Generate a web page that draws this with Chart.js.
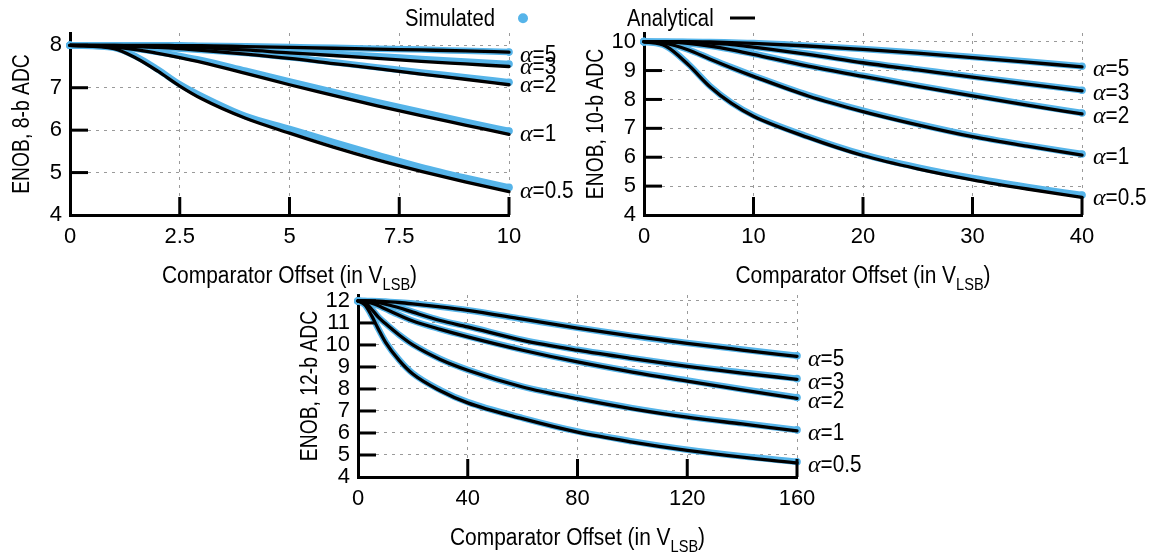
<!DOCTYPE html>
<html>
<head>
<meta charset="utf-8">
<script src="https://cdn.jsdelivr.net/npm/chart.js@4.4.1/dist/chart.umd.min.js"></script>
<style>
  html, body { margin: 0; padding: 0; background: #fff; }
  body { width: 1153px; height: 557px; position: relative; overflow: hidden; }
  canvas { position: absolute; }
  #c1 { left: 0; top: 0; }
  #c2 { left: 580px; top: 0; }
  #c3 { left: 290px; top: 270px; }
</style>
</head>
<body>
<canvas id="c3" width="580" height="287"></canvas>
<canvas id="c1" width="580" height="290"></canvas>
<canvas id="c2" width="573" height="290"></canvas>
<script>
// ---------------- DATA ----------------
const ALPHAS = ['0.5', '1', '2', '3', '5'];

// 8-b ADC
const X1 = [0, 1, 1.5, 2, 2.5, 3, 4, 5, 6, 7, 8, 9, 10];
const X1_TICKS = [0, 2.5, 5, 7.5, 10];
const Y1_TICKS = [4, 5, 6, 7, 8];
const ANA1_A05 = [8, 7.92, 7.70, 7.39, 7.04, 6.74, 6.28, 5.93, 5.60, 5.30, 5.03, 4.78, 4.55];
const ANA1_A1  = [8, 7.96, 7.90, 7.81, 7.71, 7.60, 7.34, 7.07, 6.82, 6.57, 6.34, 6.12, 5.90];
const ANA1_A2  = [8, 7.99, 7.97, 7.95, 7.92, 7.88, 7.79, 7.69, 7.57, 7.45, 7.32, 7.20, 7.07];
const ANA1_A3  = [8, 8.00, 7.99, 7.98, 7.96, 7.94, 7.89, 7.82, 7.76, 7.69, 7.62, 7.56, 7.50];
const ANA1_A5  = [8, 8.00, 8.00, 8.00, 7.99, 7.99, 7.97, 7.95, 7.93, 7.91, 7.89, 7.87, 7.84];
const SIM1_A05 = [8, 7.94, 7.74, 7.43, 7.08, 6.80, 6.33, 6.03, 5.72, 5.42, 5.13, 4.88, 4.65];
const SIM1_A1  = [8, 7.97, 7.92, 7.84, 7.75, 7.65, 7.40, 7.15, 6.90, 6.66, 6.43, 6.20, 5.98];
const SIM1_A2  = [8, 7.99, 7.97, 7.95, 7.92, 7.89, 7.82, 7.72, 7.60, 7.48, 7.36, 7.25, 7.13];
const SIM1_A3  = [8, 8.00, 7.99, 7.98, 7.97, 7.95, 7.91, 7.86, 7.80, 7.74, 7.68, 7.62, 7.56];
const SIM1_A5  = [8, 8.00, 8.00, 8.00, 8.00, 7.99, 7.98, 7.96, 7.94, 7.92, 7.90, 7.87, 7.84];
const Y1_MAX = 8.29;

// 10-b ADC
const X2 = [0, 2, 4, 6, 8, 10, 15, 20, 25, 30, 35, 40];
const X2_TICKS = [0, 10, 20, 30, 40];
const Y2_TICKS = [4, 5, 6, 7, 8, 9, 10];
const ANA2_A05 = [10, 9.84, 9.22, 8.45, 7.86, 7.42, 6.68, 6.06, 5.60, 5.22, 4.90, 4.61];
const ANA2_A1  = [10, 9.94, 9.72, 9.40, 9.09, 8.80, 8.12, 7.58, 7.12, 6.71, 6.38, 6.07];
const ANA2_A2  = [10, 9.99, 9.94, 9.85, 9.72, 9.56, 9.15, 8.80, 8.45, 8.12, 7.80, 7.50];
const ANA2_A3  = [10, 10.0, 9.98, 9.95, 9.90, 9.81, 9.56, 9.27, 9.02, 8.77, 8.53, 8.30];
const ANA2_A5  = [10, 10.0, 10.0, 9.99, 9.97, 9.94, 9.85, 9.73, 9.60, 9.45, 9.29, 9.13];
const SIM2_A05 = [10, 9.85, 9.24, 8.47, 7.88, 7.45, 6.71, 6.10, 5.65, 5.28, 4.97, 4.69];
const SIM2_A1  = [10, 9.94, 9.73, 9.42, 9.11, 8.82, 8.15, 7.61, 7.15, 6.74, 6.41, 6.11];
const SIM2_A2  = [10, 9.99, 9.94, 9.86, 9.73, 9.58, 9.17, 8.82, 8.48, 8.15, 7.83, 7.53];
const SIM2_A3  = [10, 10.0, 9.98, 9.95, 9.90, 9.82, 9.58, 9.29, 9.04, 8.79, 8.55, 8.32];
const SIM2_A5  = [10, 10.0, 10.0, 9.99, 9.97, 9.95, 9.86, 9.75, 9.62, 9.47, 9.31, 9.15];
const Y2_MAX = 10.3;

// 12-b ADC
const X3 = [0, 2.5, 5, 7.5, 10, 15, 20, 30, 40, 60, 80, 100, 120, 140, 160];
const X3_TICKS = [0, 40, 80, 120, 160];
const Y3_TICKS = [4, 5, 6, 7, 8, 9, 10, 11, 12];
const ANA3_A05 = [12, 11.82, 11.32, 10.70, 10.13, 9.30, 8.68, 7.92, 7.37, 6.65, 6.04, 5.59, 5.21, 4.90, 4.64];
const ANA3_A1  = [12, 11.93, 11.62, 11.25, 10.97, 10.45, 10.00, 9.34, 8.85, 8.09, 7.56, 7.10, 6.72, 6.41, 6.10];
const ANA3_A2  = [12, 11.98, 11.90, 11.78, 11.63, 11.35, 11.09, 10.71, 10.37, 9.76, 9.23, 8.77, 8.36, 7.96, 7.57];
const ANA3_A3  = [12, 12.00, 11.97, 11.92, 11.85, 11.69, 11.49, 11.11, 10.82, 10.21, 9.76, 9.38, 9.03, 8.72, 8.44];
const ANA3_A5  = [12, 12.00, 12.00, 11.99, 11.97, 11.93, 11.87, 11.73, 11.57, 11.17, 10.77, 10.40, 10.07, 9.77, 9.48];
const SIM3_A05 = [12, 11.82, 11.33, 10.71, 10.15, 9.32, 8.70, 7.95, 7.40, 6.68, 6.07, 5.62, 5.24, 4.94, 4.69];
const SIM3_A1  = [12, 11.93, 11.63, 11.26, 10.98, 10.46, 10.02, 9.36, 8.87, 8.11, 7.59, 7.13, 6.75, 6.44, 6.14];
const SIM3_A2  = [12, 11.98, 11.90, 11.78, 11.64, 11.36, 11.10, 10.72, 10.39, 9.78, 9.25, 8.79, 8.39, 7.99, 7.61];
const SIM3_A3  = [12, 12.00, 11.97, 11.92, 11.85, 11.70, 11.50, 11.12, 10.84, 10.23, 9.78, 9.40, 9.05, 8.75, 8.47];
const SIM3_A5  = [12, 12.00, 12.00, 11.99, 11.97, 11.93, 11.88, 11.74, 11.58, 11.18, 10.78, 10.41, 10.09, 9.79, 9.51];
const Y3_MAX = 12.27;

// ---------------- STYLE ----------------
const FONT = "'Liberation Sans', Arial, Helvetica, sans-serif";
const SERIF = "'Liberation Serif', 'DejaVu Serif', serif";
const BLUE = '#56B4E9';
const GRID = '#9a9a9a';

function drawScaled(ctx, s, x, y, font, sx) {
  ctx.save();
  ctx.font = font;
  ctx.translate(x, y);
  ctx.scale(sx, 1);
  ctx.fillText(s, 0, 0);
  const w = ctx.measureText(s).width * sx;
  ctx.restore();
  return w;
}
function measureScaled(ctx, s, font, sx) {
  ctx.save(); ctx.font = font;
  const w = ctx.measureText(s).width * sx;
  ctx.restore();
  return w;
}

const TICKSETS = {};

function drawInwardTicks(chart) {
  const t = TICKSETS[chart.canvas.id];
  if (!t) return;
  const ctx = chart.ctx, a = chart.chartArea, xs = chart.scales.x, ys = chart.scales.y;
  ctx.save();
  ctx.setLineDash([]);
  ctx.fillStyle = '#000';
  for (let i = 1; i < t.y.length; i++) {
    const p = ys.getPixelForValue(t.y[i]);
    ctx.fillRect(a.left, p - 1.5, 18, 3);
  }
  for (let i = 1; i < t.x.length; i++) {
    const p = xs.getPixelForValue(t.x[i]);
    ctx.fillRect(p - 1.5, a.bottom - 18, 3, 18);
  }
  ctx.restore();
}

const deco = {
  id: 'deco',
  afterDraw(chart, args, o) {
    drawInwardTicks(chart);
    const { ctx, chartArea: a, scales: { y } } = chart;
    ctx.save();
    ctx.fillStyle = '#000';
    ctx.textBaseline = 'alphabetic';
    ctx.textAlign = 'left';

    // x title with subscript
    const mainF = '23px ' + FONT, subF = '16px ' + FONT, SX = 0.91;
    const t1 = 'Comparator Offset (in V', t2 = 'LSB', t3 = ')';
    const w1 = measureScaled(ctx, t1, mainF, SX), w2 = measureScaled(ctx, t2, subF, SX), w3 = measureScaled(ctx, t3, mainF, SX);
    let sx0 = (a.left + a.right) / 2 - (w1 + w2 + w3) / 2;
    const base = a.bottom + 68;
    sx0 += drawScaled(ctx, t1, sx0, base, mainF, SX);
    sx0 += drawScaled(ctx, t2, sx0, base + 7, subF, SX);
    drawScaled(ctx, t3, sx0, base, mainF, SX);

    // y title (rotated)
    ctx.save();
    ctx.translate(a.left - 49, (a.top + a.bottom) / 2);
    ctx.rotate(-Math.PI / 2);
    const yf = '23px ' + FONT, YS = 0.84;
    const wy = measureScaled(ctx, o.yTitle, yf, YS);
    drawScaled(ctx, o.yTitle, -wy / 2, 8.2, yf, YS);
    ctx.restore();

    // curve labels
    o.labels.forEach(l => {
      const cy = y.getPixelForValue(l.value) + 2;
      let lx = a.right + 11;
      ctx.font = 'italic 24px ' + SERIF;
      ctx.fillText('\u03B1', lx, cy + 8.2);
      lx += ctx.measureText('\u03B1').width;
      drawScaled(ctx, '=' + l.text, lx, cy + 8.2, '23px ' + FONT, 0.9);
    });

    // legend pieces
    if (o.legendSim) {
      drawScaled(ctx, 'Simulated', o.legendSim.x, 26.3, '23px ' + FONT, 0.88);
      ctx.fillStyle = BLUE;
      ctx.beginPath(); ctx.arc(o.legendSim.dot, 18.3, 5, 0, Math.PI * 2); ctx.fill();
    }
    if (o.legendAna) {
      ctx.fillStyle = '#000';
      drawScaled(ctx, 'Analytical', o.legendAna.x, 26.3, '23px ' + FONT, 0.88);
      ctx.fillRect(o.legendAna.l1, 16.5, o.legendAna.l2 - o.legendAna.l1, 3);
    }
    ctx.restore();
  }
};
Chart.register(deco);

function buildDatasets(X, sims, anas) {
  const ds = [];
  sims.forEach((s, i) => {
    ds.push({
      label: 'Simulated \u03B1=' + ALPHAS[i],
      data: X.map((x, j) => ({ x, y: s[j] })),
      borderColor: BLUE, backgroundColor: BLUE, pointBorderColor: BLUE, pointBackgroundColor: BLUE,
      borderWidth: 6.5,
      pointRadius: c => (c.dataIndex === 0 || c.dataIndex === X.length - 1) ? 3.8 : 0,
      pointBorderWidth: 0,
      cubicInterpolationMode: 'monotone',
      borderCapStyle: 'round', borderJoinStyle: 'round',
      clip: 10,
      order: 1
    });
  });
  anas.forEach((s, i) => {
    ds.push({
      label: 'Analytical \u03B1=' + ALPHAS[i],
      data: X.map((x, j) => ({ x, y: s[j] })),
      borderColor: '#000', backgroundColor: '#000',
      borderWidth: 3.3,
      pointRadius: 0,
      cubicInterpolationMode: 'monotone',
      borderCapStyle: 'round', borderJoinStyle: 'round',
      clip: 10,
      order: 0
    });
  });
  return ds;
}

function makeChart(id, p) {
  TICKSETS[id] = { x: p.xTicks.slice(), y: p.yTicks.slice() };
  return new Chart(document.getElementById(id), {
    type: 'line',
    data: { datasets: buildDatasets(p.X, p.sims, p.anas) },
    options: {
      responsive: false,
      animation: false,
      devicePixelRatio: 1,
      layout: { padding: { left: 0, right: p.padRight, top: p.padTop, bottom: 0 } },
      plugins: {
        legend: { display: false },
        tooltip: { enabled: false },
        deco: {
          yTitle: p.yTitle,
          labels: p.sims.map((s, i) => ({ text: ALPHAS[i], value: s[s.length - 1] })),
          legendSim: p.legendSim, legendAna: p.legendAna
        }
      },
      scales: {
        x: {
          type: 'linear', min: p.xTicks[0], max: p.xTicks[p.xTicks.length - 1],
          afterBuildTicks: s => { s.ticks = p.xTicks.map(v => ({ value: v })); },
          afterFit: s => { s.height = p.xHeight; },
          ticks: { color: '#000', font: { family: FONT, size: 22 }, padding: 9, maxRotation: 0, autoSkip: false, callback: v => String(v) },
          grid: { color: GRID, lineWidth: 1, drawTicks: false },
          border: { display: true, color: '#000', width: 3, dash: [3, 5] }
        },
        y: {
          type: 'linear', min: p.yTicks[0], max: p.yMax,
          afterBuildTicks: s => { s.ticks = p.yTicks.map(v => ({ value: v })); },
          afterFit: s => { s.width = p.yWidth; },
          ticks: { color: '#000', font: { family: FONT, size: 22 }, padding: 8, autoSkip: false, callback: v => String(v) },
          grid: { color: GRID, lineWidth: 1, drawTicks: false },
          border: { display: true, color: '#000', width: 3, dash: [3, 5] }
        }
      }
    }
  });
}

makeChart('c1', {
  X: X1, xTicks: X1_TICKS, yTicks: Y1_TICKS, yMax: Y1_MAX,
  sims: [SIM1_A05, SIM1_A1, SIM1_A2, SIM1_A3, SIM1_A5],
  anas: [ANA1_A05, ANA1_A1, ANA1_A2, ANA1_A3, ANA1_A5],
  yTitle: 'ENOB, 8-b ADC',
  padRight: 71, padTop: 33, xHeight: 75, yWidth: 70,
  legendSim: { x: 405, dot: 523 }
});
makeChart('c2', {
  X: X2, xTicks: X2_TICKS, yTicks: Y2_TICKS, yMax: Y2_MAX,
  sims: [SIM2_A05, SIM2_A1, SIM2_A2, SIM2_A3, SIM2_A5],
  anas: [ANA2_A05, ANA2_A1, ANA2_A2, ANA2_A3, ANA2_A5],
  yTitle: 'ENOB, 10-b ADC',
  padRight: 71, padTop: 33, xHeight: 75, yWidth: 64,
  legendAna: { x: 47, l1: 150, l2: 175 }
});
makeChart('c3', {
  X: X3, xTicks: X3_TICKS, yTicks: Y3_TICKS, yMax: Y3_MAX,
  sims: [SIM3_A05, SIM3_A1, SIM3_A2, SIM3_A3, SIM3_A5],
  anas: [ANA3_A05, ANA3_A1, ANA3_A2, ANA3_A3, ANA3_A5],
  yTitle: 'ENOB, 12-b ADC',
  padRight: 73, padTop: 25, xHeight: 80, yWidth: 68
});
</script>
</body>
</html>
